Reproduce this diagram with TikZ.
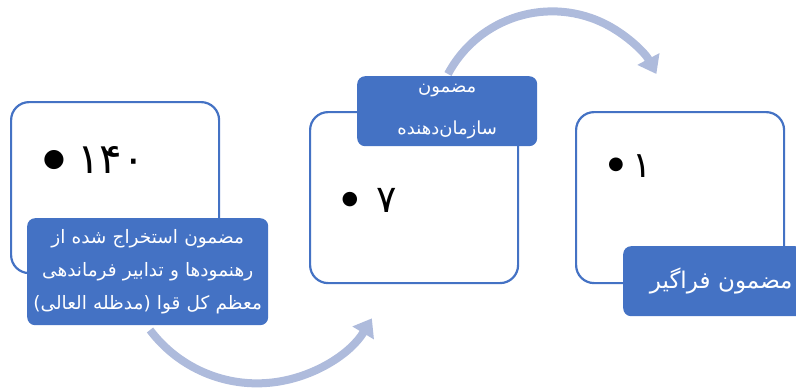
\documentclass[tikz,border=0pt]{standalone}
\usepackage{fontspec}
\usetikzlibrary{arrows.meta}
\TeXXeTstate=1
\newfontfamily\arabicfont[Script=Arabic]{DejaVu Sans}
\newfontfamily\symfont{DejaVu Sans}
\newcommand{\fa}[1]{{\arabicfont\beginR #1\endR}}
\definecolor{officeblue}{RGB}{68,114,196}
\definecolor{arrowblue}{RGB}{174,187,220}
\tikzset{
  bigbox/.style={draw=officeblue, line width=2.2pt, fill=white, rounded corners=18pt,
    minimum width=208pt, minimum height=171pt, anchor=north west, inner sep=0pt},
  labelbox/.style={fill=officeblue, rounded corners=8pt, text=white, anchor=north west,
    inner sep=0pt, align=center},
  flow/.style={arrowblue, line width=8pt, -{Triangle[width=24pt,length=17pt]}},
  bulletmark/.style={inner sep=0pt},
  num/.style={inner sep=0pt}
}
\begin{document}
\begin{tikzpicture}[x=1pt,y=-1pt]
\useasboundingbox (0,0) rectangle (796,388);
% connectors
\coordinate (a1s) at (150,330);
\coordinate (a2s) at (448,74);
\draw[flow] (a1s) arc[start angle=143, end angle=31, radius=134];
\draw[flow] (a2s) arc[start angle=208, end angle=332, radius=118];
% boxes
\node[bigbox] (b1) at (10,101) {};
\node[bigbox] (b2) at (309,111) {};
\node[bigbox] (b3) at (575,111) {};
% bullets and numbers
\node[bulletmark, font=\symfont\fontsize{25}{25}\selectfont] (d1) at (54,160) {●};
\node[num, font=\arabicfont\fontsize{42}{42}\selectfont] (n1) at (111,160) {۱۴۰};
\node[bulletmark, font=\symfont\fontsize{19}{19}\selectfont] (d2) at (350,200) {●};
\node[num, font=\arabicfont\fontsize{38}{38}\selectfont] (n2) at (387,200) {۷};
\node[bulletmark, font=\symfont\fontsize{18}{18}\selectfont] (d3) at (616,165) {●};
\node[num, font=\arabicfont\fontsize{36}{36}\selectfont] (n3) at (642,166) {۱};
% labels
\node[labelbox, minimum width=241pt, minimum height=107pt, text width=241pt,
  font=\fontsize{18.5}{33}\selectfont] (l1) at (27,218)
  {\fa{مضمون استخراج شده از}\\ \fa{رهنمودها و تدابیر فرماندهی}\\ \fa{معظم کل قوا (مدظله العالی)}};
\node[labelbox, minimum width=180pt, minimum height=70pt,
  font=\fontsize{18}{42}\selectfont] (l2) at (357,76)
  {\fa{مضمون}\\ \fa{سازمان‌دهنده}};
\node[labelbox, minimum width=180pt, minimum height=70pt, text width=172pt,
  font=\fontsize{23}{26}\selectfont] (l3) at (623,246)
  {\hspace*{16pt}\fa{مضمون فراگیر}};
\end{tikzpicture}
\end{document}
